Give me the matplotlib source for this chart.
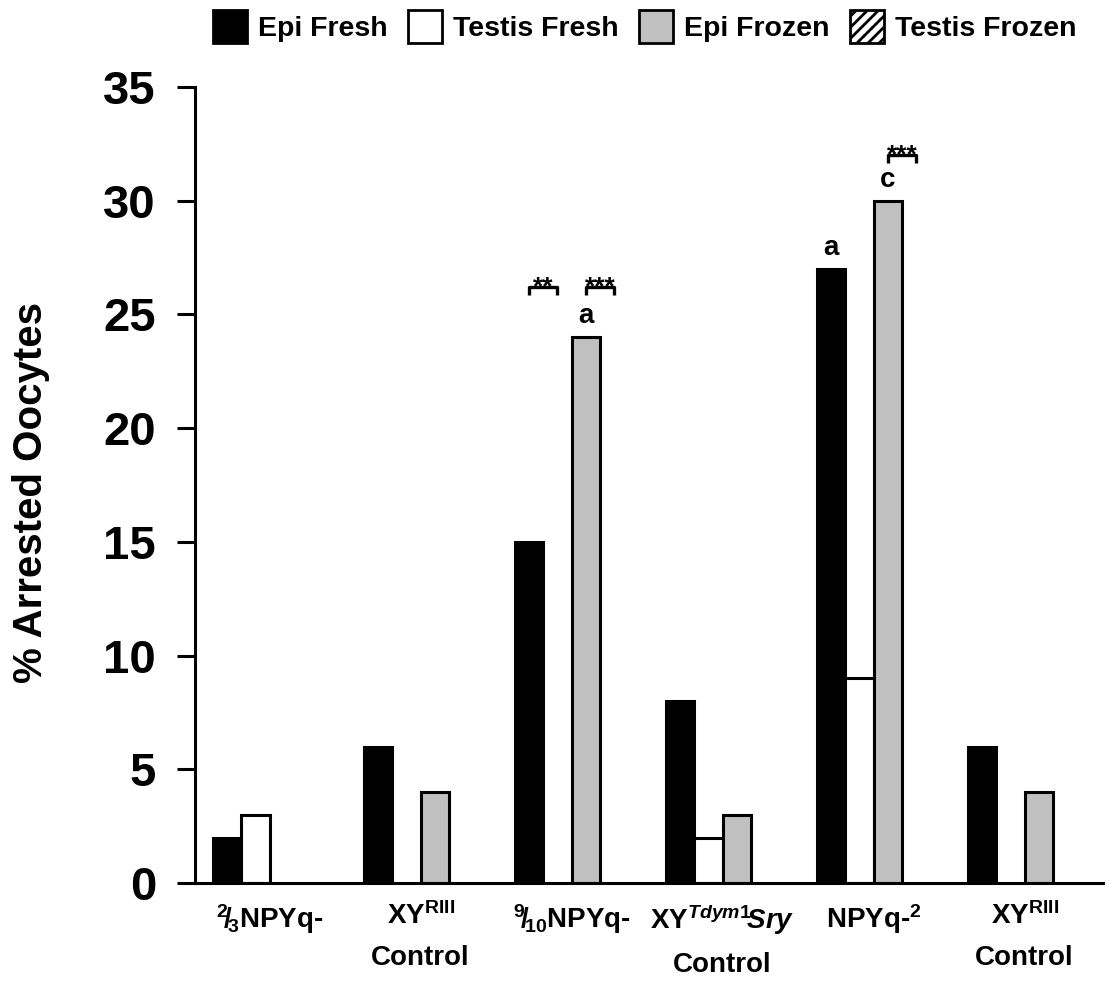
import numpy as np
import matplotlib
matplotlib.use("Agg")
import matplotlib.pyplot as plt
from matplotlib import font_manager
from matplotlib.patches import Patch

# ---- data -------------------------------------------------------------
categories = [
    r"${}^{2}\!/\!{}_{3}$NPYq-",
    "XY$^{\\mathrm{RIII}}$\nControl",
    r"${}^{9}\!/\!{}_{10}$NPYq-",
    "XY$^{Tdym1}\\!Sry$\nControl",
    r"NPYq-$^{2}$",
    "XY$^{\\mathrm{RIII}}$\nControl",
]
series_names = ["Epi Fresh", "Testis Fresh", "Epi Frozen", "Testis Frozen"]
epi_fresh = [2, 6, 15, 8, 27, 6]
testis_fresh = [3, None, None, 2, 9, None]
epi_frozen = [None, 4, 24, 3, 30, 4]
testis_frozen = [None, None, None, None, None, None]

# letter annotations: (group, series index, text)
letters = [(2, 2, "a"), (4, 0, "a"), (4, 2, "c")]
# significance brackets: (group, first series, second series, height, stars)
brackets = [(2, 0, 1, 26.2, "**"), (2, 2, 3, 26.2, "***"), (4, 2, 3, 32.0, "***")]

# ---- fonts ------------------------------------------------------------
names = {f.name for f in font_manager.fontManager.ttflist}
BASE = "Liberation Sans"
NARROW = "Liberation Sans Narrow" if "Liberation Sans Narrow" in names else BASE
LABEL_SIZE = 22 if NARROW != BASE else 20
plt.rcParams["font.family"] = [BASE, "DejaVu Sans"]
plt.rcParams["font.weight"] = "bold"
plt.rcParams["mathtext.fontset"] = "custom"
plt.rcParams["mathtext.rm"] = f"{NARROW}:bold"
plt.rcParams["mathtext.it"] = f"{NARROW}:bold:italic"
plt.rcParams["mathtext.bf"] = f"{NARROW}:bold"
plt.rcParams["hatch.linewidth"] = 2.0

# ---- figure -----------------------------------------------------------
fig = plt.figure(figsize=(11.09, 9.84), dpi=100)
ax = fig.add_axes([0.1758, 0.1026, 0.8188, 0.809])

width = 0.1874
fills = ["black", "white", "#c0c0c0", "white"]
hatches = [None, None, None, "///"]
all_series = [epi_fresh, testis_fresh, epi_frozen, testis_frozen]
groups = np.arange(len(categories))

def slot_x(g, j):
    return g + (j - 1.5) * width

for j, vals in enumerate(all_series):
    xs = [slot_x(g, j) for g, v in zip(groups, vals) if v is not None]
    hs = [v for v in vals if v is not None]
    if xs:
        ax.bar(xs, hs, width=width, color=fills[j], edgecolor="black",
               linewidth=2.2, hatch=hatches[j], zorder=2)

for g, j, t in letters:
    ax.text(slot_x(g, j), all_series[j][g] + 0.35, t, ha="center",
            va="bottom", fontsize=20, fontweight="bold")

for g, j0, j1, h, stars in brackets:
    x0, x1 = slot_x(g, j0), slot_x(g, j1)
    ax.plot([x0, x0, x1, x1], [h - 0.35, h, h, h - 0.35], color="black",
            lw=2.4, solid_capstyle="butt", clip_on=False)
    ax.text((x0 + x1) / 2, h - 0.3, stars, ha="center", va="baseline",
            fontsize=19, fontweight="bold")

ax.set_xlim(-0.494, 5.519)
ax.set_ylim(0, 35)
ax.set_yticks(np.arange(0, 36, 5))
ax.set_xticks(groups)
ax.set_xticklabels(categories, fontsize=LABEL_SIZE, fontweight="bold",
                   family=[NARROW, "DejaVu Sans"], linespacing=1.75)
ax.tick_params(axis="x", length=0, pad=14)
ax.tick_params(axis="y", direction="out", length=13, width=2.2, pad=15,
               labelsize=34)
for lbl in ax.get_yticklabels():
    lbl.set_fontweight("bold")

for side in ("top", "right"):
    ax.spines[side].set_visible(False)
for side in ("left", "bottom"):
    ax.spines[side].set_linewidth(2.2)

ax.set_ylabel("% Arrested Oocytes", fontsize=29, fontweight="bold")
ax.yaxis.set_label_coords(-0.16, 0.49)

handles = [Patch(facecolor=fills[j], edgecolor="black", linewidth=2.0,
                 hatch=hatches[j]) for j in range(4)]
fig.legend(handles, series_names, loc="upper left",
           bbox_to_anchor=(0.192, 0.99), ncol=4, frameon=False,
           borderpad=0, borderaxespad=0, handlelength=1.2, handleheight=1.4,
           handletextpad=0.38, columnspacing=0.72,
           prop={"family": BASE, "weight": "bold", "size": 20.5})

fig.savefig("out.png", dpi=100)
